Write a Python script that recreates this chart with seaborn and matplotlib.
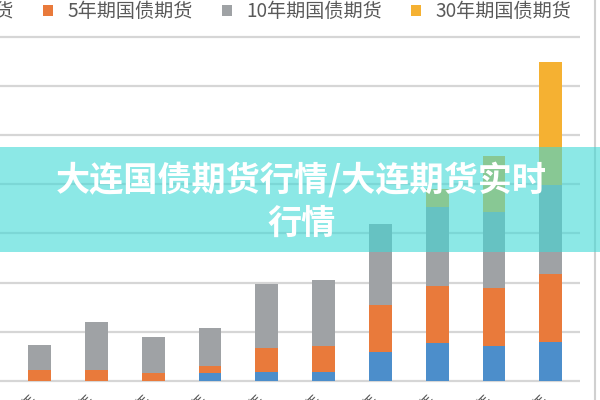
import numpy as np
import pandas as pd
import seaborn as sns
from matplotlib import pyplot as plt
from matplotlib.patches import Patch, Rectangle
from matplotlib.lines import Line2D

# values (one grid step = 1 unit)
periods = ["2015年", "2016年", "2017年", "2018年", "2019年",
           "2020年", "2021年", "2022年", "2023年", "2024年"]
tf2 = [0.00, 0.00, 0.00, 0.16, 0.18, 0.19, 0.59, 0.78, 0.71, 0.80]
tf5 = [0.22, 0.22, 0.16, 0.15, 0.49, 0.52, 0.96, 1.16, 1.19, 1.38]
tf10 = [0.51, 0.98, 0.74, 0.77, 1.31, 1.35, 1.65, 1.59, 1.53, 1.80]
tf30 = [0.00, 0.00, 0.00, 0.00, 0.00, 0.00, 0.00, 0.37, 1.14, 2.51]

series = ["2年期国债期货", "5年期国债期货", "10年期国债期货", "30年期国债期货"]
colors = ["#4C8ECB", "#E97A3B", "#9FA2A5", "#F5B132"]
title = "大连国债期货行情/大连期货实时\n行情"

df = pd.DataFrame({"period": periods, series[0]: tf2, series[1]: tf5,
                   series[2]: tf10, series[3]: tf30})

sns.set_theme(style="white")
plt.rcParams["font.family"] = ["Noto Sans CJK SC", "DejaVu Sans"]

fig = plt.figure(figsize=(6, 4), dpi=100)
ax = fig.add_axes([0.0, 0.0352, 580 / 600, 0.8855])

bottom = np.zeros(len(periods))
for name, col in zip(series, colors):
    sns.barplot(data=df, x="period", y=name, color=col, width=0.4,
                bottom=bottom, ax=ax, zorder=2, linewidth=0, saturation=1)
    bottom = bottom + df[name].to_numpy()

ax.set_xlim(-0.697, 9.514)
ax.set_ylim(-0.1, 7.1)
ax.set_yticks(range(0, 8))
ax.set_yticklabels([])
ax.grid(axis="y", color="#D6D6D6", linewidth=1.6, zorder=0)
ax.set_axisbelow(True)
for s in ax.spines.values():
    s.set_visible(False)
ax.set_xlabel("")
ax.set_ylabel("")
ax.tick_params(axis="both", length=0)
ax.tick_params(axis="x", pad=4, labelsize=10, labelcolor="#595959")
plt.setp(ax.get_xticklabels(), rotation=45, ha="right")

handles = [Patch(facecolor=c, edgecolor="none") for c in colors]
fig.legend(handles, series, ncol=4, loc="center right",
           bbox_to_anchor=((572 + 9) / 600 + 0.012, 1 - 11.5 / 400),
           frameon=False, fontsize=13.75, labelcolor="#595959",
           handlelength=0.5, handleheight=0.5, handletextpad=0.75,
           columnspacing=1.55)

# chart frame edge on the right
fig.add_artist(Line2D([595 / 600, 595 / 600], [0, 1], color="#D0D0D0",
                      linewidth=1.5, transform=fig.transFigure))

# translucent title banner
fig.add_artist(Rectangle((0, 1 - 251.7 / 400), 1, 104.4 / 400,
                         transform=fig.transFigure, facecolor=(0.25, 0.85, 0.84),
                         alpha=0.6, edgecolor="none", zorder=5))
fig.text(0.502, 1 - 201 / 400, title, ha="center", va="center",
         multialignment="center", color="white", fontsize=24.6,
         fontweight="heavy", linespacing=1.28, zorder=6)

fig.savefig("out.png", dpi=100)
